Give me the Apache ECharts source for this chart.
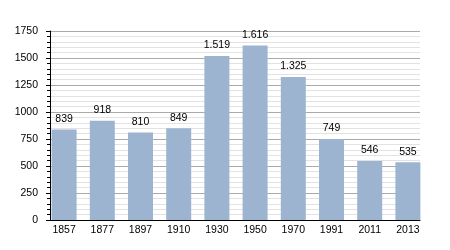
<!DOCTYPE html>
<html>
<head>
<meta charset="utf-8">
<script src="https://cdn.jsdelivr.net/npm/echarts@6/dist/echarts.min.js"></script>
<style>
html,body{margin:0;padding:0;background:#fff;}
#c{width:450px;height:250px;}
</style>
</head>
<body>
<div id="c"></div>
<script>
var years = ['1857','1877','1897','1910','1930','1950','1970','1991','2011','2013'];
var population = [839, 918, 810, 849, 1519, 1616, 1325, 749, 546, 535];
var yTicks = [0, 250, 500, 750, 1000, 1250, 1500, 1750];

var FONT = '"Liberation Sans", Arial, sans-serif';
function fmt(v){
  var s = String(v);
  return s.length > 3 ? s.slice(0, s.length-3) + '.' + s.slice(s.length-3) : s;
}
var chart = echarts.init(document.getElementById('c'));
chart.setOption({
  animation: false,
  grid: [
    {left: 50, right: 30, top: 31, bottom: 30},
    {left: 45, right: 23, top: 31, bottom: 30}
  ],
  xAxis: [
    {gridIndex: 0, type: 'category', data: years, boundaryGap: true,
     axisLine: {show: true, lineStyle: {color: '#000', width: 1}},
     axisTick: {show: false}, axisLabel: {show: false}, splitLine: {show: false}},
    {gridIndex: 1, type: 'category', data: years,
     axisLine: {show: false}, axisTick: {show: false},
     axisLabel: {color: '#000', fontSize: 10.5, fontFamily: FONT, margin: 5}}
  ],
  yAxis: [
    {gridIndex: 0, type: 'value', min: yTicks[0], max: yTicks[yTicks.length-1], interval: 250,
     axisLine: {show: true, lineStyle: {color: '#000', width: 1}},
     axisTick: {show: true, length: 4, lineStyle: {color: '#000'}},
     minorTick: {show: true, splitNumber: 5, length: 3, lineStyle: {color: '#000'}},
     axisLabel: {color: '#000', fontSize: 10.5, fontFamily: FONT, margin: 12,
       formatter: function(v){ return String(v); }},
     splitLine: {show: true, lineStyle: {color: '#aaaaaa', width: 1}},
     minorSplitLine: {show: true, lineStyle: {color: '#e2e2e2', width: 1}}},
    {gridIndex: 1, type: 'value', min: yTicks[0], max: yTicks[yTicks.length-1], interval: 250,
     show: false, splitLine: {show: false}}
  ],
  series: [{
    type: 'bar', xAxisIndex: 1, yAxisIndex: 1,
    data: population, barWidth: 25,
    itemStyle: {color: '#9cb4d0'},
    label: {show: true, position: 'top', distance: 5, color: '#000', fontSize: 10.5, fontFamily: FONT,
      formatter: function(p){ return fmt(p.value); }}
  }]
});
</script>
</body>
</html>
